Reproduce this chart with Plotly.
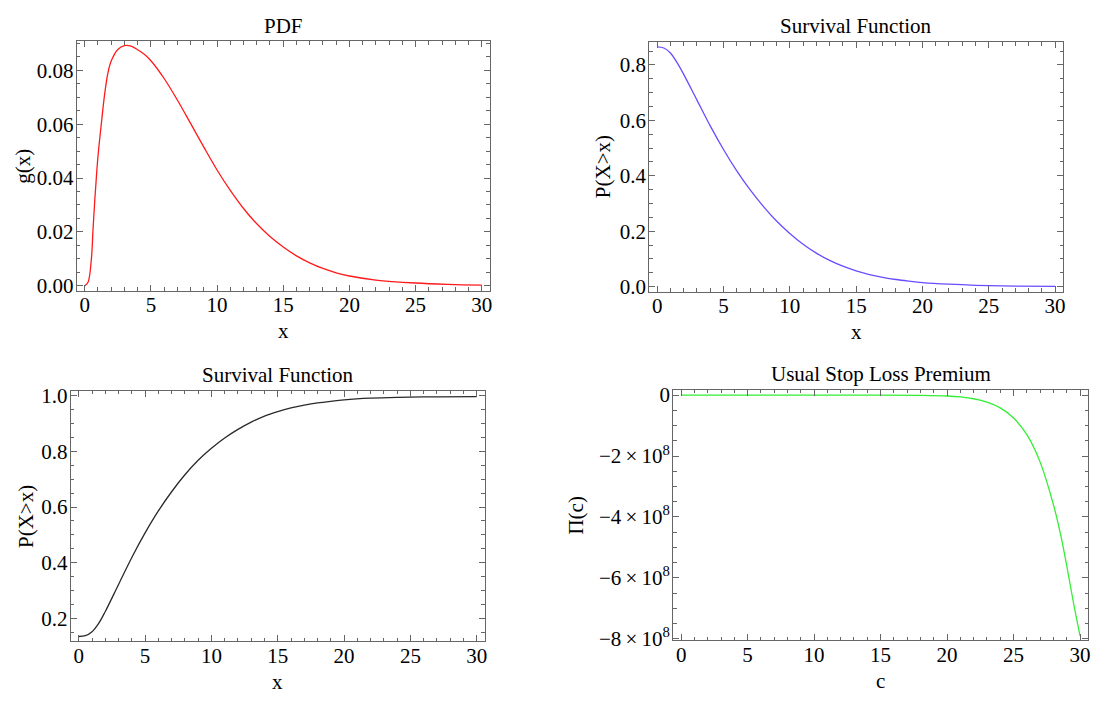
import plotly.graph_objects as go

W, H = 1094, 702
FONT = "Liberation Serif"
FRAME = "#666666"

# ---- data ----
# probability density g(x)
pdf_x = [0, 0.25, 0.5, 0.625, 0.75, 0.875, 1.0, 1.25, 1.5, 1.75, 2.0, 2.5, 3.0, 3.5,
         4, 4.5, 5, 6, 7, 8, 9, 10, 11, 12, 13, 14, 15, 16, 17, 18, 19, 20, 22, 25,
         27.5, 30]
pdf_g = [0, 0.0013, 0.0098, 0.0207, 0.031, 0.040, 0.048, 0.060, 0.071, 0.079, 0.0835,
         0.0878, 0.0892, 0.0890, 0.0877, 0.0860, 0.0836, 0.0770, 0.0690, 0.0603, 0.0515,
         0.0430, 0.0354, 0.0287, 0.0230, 0.0183, 0.0144, 0.0111, 0.0085, 0.0064, 0.0048,
         0.0036, 0.0021, 0.0010, 0.0005, 0.0002]

# survival function P(X>x)
surv_x = [0, 0.5, 1, 1.5, 2, 3, 4, 5, 6, 7, 8, 9, 10, 11, 12, 13, 14, 15, 16, 17, 18,
          19, 20, 22, 24, 27, 30]
surv_p = [0.865, 0.861, 0.843, 0.808, 0.766, 0.673, 0.580, 0.495, 0.418, 0.350, 0.290,
          0.237, 0.192, 0.153, 0.121, 0.095, 0.074, 0.057, 0.044, 0.034, 0.026, 0.020,
          0.015, 0.009, 0.005, 0.002, 0.001]

# lower-left panel curve
cdf_x = [0, 0.5, 1, 1.5, 2, 3, 4, 5, 6, 7, 8, 9, 10, 11, 12, 13, 14, 15, 16, 17, 18,
         19, 20, 22, 24, 27, 30]
cdf_p = [0.135, 0.138, 0.152, 0.182, 0.225, 0.322, 0.419, 0.507, 0.586, 0.655, 0.716,
         0.768, 0.811, 0.848, 0.879, 0.905, 0.927, 0.943, 0.956, 0.966, 0.974, 0.980,
         0.985, 0.991, 0.994, 0.996, 0.997]

# usual stop loss premium Π(c)
prem_c = [0, 5, 10, 15, 18, 20, 21, 22, 23, 24, 25, 26, 27, 28, 28.5, 29, 29.5, 30]
prem_v = [0, 0, 0, -0.002e8, -0.01e8, -0.03e8, -0.06e8, -0.12e8, -0.23e8, -0.42e8,
          -0.75e8, -1.3e8, -2.2e8, -3.6e8, -4.5e8, -5.6e8, -6.8e8, -7.9e8]

x_ticks = [0, 5, 10, 15, 20, 25, 30]
prem_tickvals = [0, -2e8, -4e8, -6e8, -8e8]
prem_ticktext = ["0", "\u22122\u2009\u00d7\u200910<sup>8</sup>",
                 "\u22124\u2009\u00d7\u200910<sup>8</sup>",
                 "\u22126\u2009\u00d7\u200910<sup>8</sup>",
                 "\u22128\u2009\u00d7\u200910<sup>8</sup>"]

# ---- panel frames in pixels: (left, top, right, bottom) ----
boxes = {
    1: (77, 35, 491, 291),
    2: (651, 36, 1066, 292),
    3: (71, 394, 486, 651),
    4: (675, 393, 1091, 650),
}


def dom(b):
    l, t, r, btm = b
    return [l / W, r / W], [1 - btm / H, 1 - t / H]


def axis(domain, anchor, rng, **kw):
    d = dict(domain=domain, anchor=anchor, range=rng,
             showline=True, linecolor=FRAME, linewidth=1, mirror="ticks",
             ticks="inside", ticklen=6, tickcolor=FRAME, tickwidth=1,
             showgrid=False, zeroline=False,
             tickfont=dict(family=FONT, size=21, color="black"))
    d.update(kw)
    return d


fig = go.Figure()

series = [
    (1, pdf_x, pdf_g, "#ff1a1a"),
    (2, surv_x, surv_p, "#6a4cff"),
    (3, cdf_x, cdf_p, "#2a2a2a"),
    (4, prem_c, prem_v, "#33ee33"),
]
for i, xs, ys, col in series:
    suf = "" if i == 1 else str(i)
    fig.add_trace(go.Scatter(x=xs, y=ys, mode="lines", xaxis="x" + suf, yaxis="y" + suf,
                             line=dict(color=col, width=1.3, shape="spline", smoothing=1.0),
                             showlegend=False, hoverinfo="skip"))

xminor = dict(ticks="inside", ticklen=3.5, dtick=1, tick0=0, tickcolor=FRAME, showgrid=False)

y_specs = {
    1: dict(range=[-0.0018, 0.0909], tickvals=[0, 0.02, 0.04, 0.06, 0.08], tickformat=".2f",
            minor=dict(ticks="inside", ticklen=3.5, dtick=0.005, tick0=0, tickcolor=FRAME)),
    2: dict(range=[-0.0173, 0.8823], tickvals=[0, 0.2, 0.4, 0.6, 0.8], tickformat=".1f",
            minor=dict(ticks="inside", ticklen=3.5, dtick=0.05, tick0=0, tickcolor=FRAME)),
    3: dict(range=[0.1177, 1.0173], tickvals=[0.2, 0.4, 0.6, 0.8, 1.0], tickformat=".1f",
            minor=dict(ticks="inside", ticklen=3.5, dtick=0.05, tick0=0, tickcolor=FRAME)),
    4: dict(range=[-8.05e8, 0.17e8], tickvals=prem_tickvals, ticktext=prem_ticktext,
            minor=dict(ticks="inside", ticklen=3.5, dtick=0.5e8, tick0=0, tickcolor=FRAME)),
}

layout = dict(width=W, height=H, margin=dict(l=0, r=0, t=0, b=0),
              paper_bgcolor="white", plot_bgcolor="white", showlegend=False,
              font=dict(family=FONT, size=21, color="black"))

for i, b in boxes.items():
    suf = "" if i == 1 else str(i)
    dx, dy = dom(b)
    ys = y_specs[i]
    rng = ys.pop("range")
    layout["xaxis" + suf] = axis(dx, "y" + suf, [-0.6, 30.6], tickvals=x_ticks,
                                 minor=xminor, ticklabelstandoff=-5)
    layout["yaxis" + suf] = axis(dy, "x" + suf, rng, ticklabelstandoff=-2, **ys)

fig.update_layout(**layout)

titles = {1: "PDF", 2: "Survival Function", 3: "Survival Function", 4: "Usual Stop Loss Premium"}
xlabels = {1: "x", 2: "x", 3: "x", 4: "c"}
ylabels = {1: "g(x)", 2: "P(X>x)", 3: "P(X>x)", 4: "\u03a0(c)"}
ylabel_px = {1: 23, 2: 604, 3: 26, 4: 578}

for i, (l, t, r, btm) in boxes.items():
    cx = (l + r) / 2
    cy = (t + btm) / 2
    fig.add_annotation(x=cx / W, y=1 - (t - 16) / H, xref="paper", yref="paper",
                       text=titles[i], showarrow=False, xanchor="center", yanchor="middle",
                       font=dict(family=FONT, size=21, color="black"))
    fig.add_annotation(x=cx / W, y=1 - (btm + 42) / H, xref="paper", yref="paper",
                       text=xlabels[i], showarrow=False, xanchor="center", yanchor="middle",
                       font=dict(family=FONT, size=21, color="black"))
    fig.add_annotation(x=ylabel_px[i] / W, y=1 - cy / H, xref="paper", yref="paper",
                       text=ylabels[i], showarrow=False, xanchor="center", yanchor="middle",
                       textangle=-90, font=dict(family=FONT, size=21, color="black"))

fig.write_html("out.html")
